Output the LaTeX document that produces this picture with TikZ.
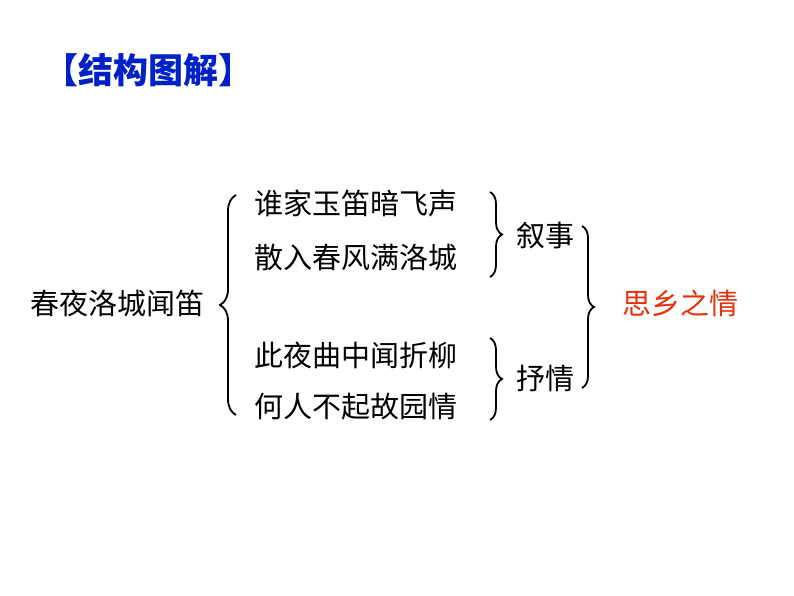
\documentclass[tikz,border=0pt]{standalone}
\usepackage{fontspec}
\setmainfont{Noto Sans CJK SC}
\usetikzlibrary{decorations.pathreplacing}
\definecolor{tblue}{RGB}{0,32,200}
\definecolor{tred}{RGB}{230,50,10}
\tikzset{txt/.style={font=\fontsize{29}{32}\selectfont,inner sep=0pt},
 br/.style={decorate,decoration={brace,amplitude=12pt},line width=1.8pt}}
\begin{document}
\begin{tikzpicture}[x=1pt,y=-1pt]
\useasboundingbox[fill=white] (0,0) rectangle (794,596);
\node[font=\fontsize{35}{40}\selectfont\bfseries,text=tblue,inner sep=0pt] (title) at (148,70) {【结构图解】};
\node[txt] (root) at (117,303) {春夜洛城闻笛};
\node[txt,anchor=west] (l1) at (254,203) {谁家玉笛暗飞声};
\node[txt,anchor=west] (l2) at (254,258) {散入春风满洛城};
\node[txt,anchor=west] (l3) at (254,355) {此夜曲中闻折柳};
\node[txt,anchor=west] (l4) at (254,407) {何人不起故园情};
\node[txt] (ns) at (545,236) {叙事};
\node[txt] (sq) at (545,378) {抒情};
\node[txt,text=tred] (sx) at (680,303) {思乡之情};
\coordinate (b1t) at (236,195); \coordinate (b1b) at (236,415);
\draw[br,decoration={amplitude=16pt}] (b1b) -- (b1t);
\coordinate (b2t) at (490,192); \coordinate (b2b) at (490,277);
\draw[br] (b2t) -- (b2b);
\coordinate (b3t) at (490,338); \coordinate (b3b) at (490,420);
\draw[br] (b3t) -- (b3b);
\coordinate (b4t) at (582,226); \coordinate (b4b) at (582,388);
\draw[br] (b4t) -- (b4b);
\end{tikzpicture}
\end{document}
